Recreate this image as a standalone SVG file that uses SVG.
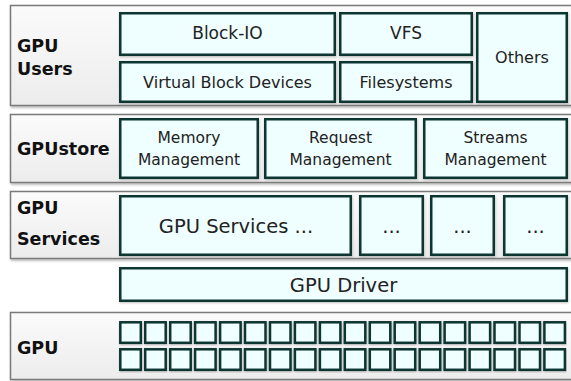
<svg xmlns="http://www.w3.org/2000/svg" width="571" height="381" viewBox="0 0 571 381">
<defs>
<linearGradient id="pg" x1="0" y1="0" x2="0" y2="1">
<stop offset="0" stop-color="#fbfbfb"/>
<stop offset="1" stop-color="#ececec"/>
</linearGradient>
<filter id="sh" x="-5%" y="-5%" width="110%" height="115%">
<feDropShadow dx="1" dy="1.5" stdDeviation="1" flood-color="#000" flood-opacity="0.3"/>
</filter>
<filter id="bs" x="-10%" y="-10%" width="120%" height="125%">
<feDropShadow dx="0.5" dy="1" stdDeviation="0.8" flood-color="#000" flood-opacity="0.25"/>
</filter>
</defs>
<style>
.panel{fill:url(#pg);stroke:#7a7a7a;stroke-width:1.5;filter:url(#sh)}
.box{fill:#effefe;stroke:#0c3431;stroke-width:2.5;filter:url(#bs)}
.lbl{font-family:"DejaVu Sans",Verdana,sans-serif;font-weight:bold;font-size:17.5px;fill:#111}
.t{font-family:"DejaVu Sans",Verdana,sans-serif;font-size:16px;fill:#222;text-anchor:middle}
.m{font-size:15.5px}
.b{font-size:19.5px}
</style>

<g id="layer-users">
<rect class="panel" x="10.5" y="5.5" width="562" height="100"/>
<text class="lbl" x="17" y="52">GPU</text>
<text class="lbl" x="17" y="75">Users</text>
</g>
<g id="block-io"><rect class="box" x="120.25" y="13.25" width="214.5" height="41.5"/><text class="t" x="227.5" y="39" style="font-size:17px">Block-IO</text></g>
<g id="virtual-block-devices"><rect class="box" x="120.25" y="62.25" width="214.5" height="39.5"/><text class="t" x="227.5" y="88">Virtual Block Devices</text></g>
<g id="vfs"><rect class="box" x="340.25" y="13.25" width="131.5" height="41.5"/><text class="t" x="406" y="39" style="font-size:17px">VFS</text></g>
<g id="filesystems"><rect class="box" x="340.25" y="62.25" width="131.5" height="39.5"/><text class="t" x="406" y="88">Filesystems</text></g>
<g id="others"><rect class="box" x="477.25" y="13.25" width="89.5" height="88.5"/><text class="t" x="522" y="63">Others</text></g>

<g id="layer-gpustore">
<rect class="panel" x="10.5" y="114.5" width="562" height="68"/>
<text class="lbl" x="17" y="155">GPUstore</text>
</g>
<g id="memory-management"><rect class="box" x="120.25" y="119.25" width="137.5" height="58.5"/><text class="t m" x="189" y="143">Memory</text><text class="t m" x="189" y="165">Management</text></g>
<g id="request-management"><rect class="box" x="265.25" y="119.25" width="150.5" height="58.5"/><text class="t m" x="340.5" y="143">Request</text><text class="t m" x="340.5" y="165">Management</text></g>
<g id="streams-management"><rect class="box" x="424.25" y="119.25" width="142.5" height="58.5"/><text class="t m" x="495.5" y="143">Streams</text><text class="t m" x="495.5" y="165">Management</text></g>

<g id="layer-services">
<rect class="panel" x="10.5" y="191.5" width="562" height="67"/>
<text class="lbl" x="17" y="214">GPU</text>
<text class="lbl" x="17" y="245">Services</text>
</g>
<g id="gpu-services"><rect class="box" x="120.25" y="196.25" width="230.5" height="58.5"/><text class="t b" x="236" y="233">GPU Services ...</text></g>
<g id="service-2"><rect class="box" x="360.25" y="196.25" width="62.5" height="58.5"/><text class="t b" x="391.5" y="233">...</text></g>
<g id="service-3"><rect class="box" x="431.25" y="196.25" width="62.5" height="58.5"/><text class="t b" x="462.5" y="233">...</text></g>
<g id="service-4"><rect class="box" x="504.25" y="196.25" width="62.5" height="58.5"/><text class="t b" x="535.5" y="233">...</text></g>

<g id="gpu-driver"><rect class="box" x="120.25" y="268.25" width="446.5" height="32.5"/><text class="t b" x="343.5" y="292">GPU Driver</text></g>

<g id="layer-gpu">
<rect class="panel" x="10.5" y="312.5" width="562" height="67"/>
<text class="lbl" x="17" y="354">GPU</text>
</g>
<g id="gpu-cores">
<rect class="box" x="120.3" y="322.3" width="20.5" height="20.5"/>
<rect class="box" x="145.2" y="322.3" width="20.5" height="20.5"/>
<rect class="box" x="170.2" y="322.3" width="20.5" height="20.5"/>
<rect class="box" x="195.1" y="322.3" width="20.5" height="20.5"/>
<rect class="box" x="220.1" y="322.3" width="20.5" height="20.5"/>
<rect class="box" x="245.0" y="322.3" width="20.5" height="20.5"/>
<rect class="box" x="270.0" y="322.3" width="20.5" height="20.5"/>
<rect class="box" x="294.9" y="322.3" width="20.5" height="20.5"/>
<rect class="box" x="319.9" y="322.3" width="20.5" height="20.5"/>
<rect class="box" x="344.8" y="322.3" width="20.5" height="20.5"/>
<rect class="box" x="369.8" y="322.3" width="20.5" height="20.5"/>
<rect class="box" x="394.7" y="322.3" width="20.5" height="20.5"/>
<rect class="box" x="419.7" y="322.3" width="20.5" height="20.5"/>
<rect class="box" x="444.6" y="322.3" width="20.5" height="20.5"/>
<rect class="box" x="469.6" y="322.3" width="20.5" height="20.5"/>
<rect class="box" x="494.5" y="322.3" width="20.5" height="20.5"/>
<rect class="box" x="519.5" y="322.3" width="20.5" height="20.5"/>
<rect class="box" x="544.4" y="322.3" width="20.5" height="20.5"/>
<rect class="box" x="120.3" y="349.3" width="20.5" height="20.5"/>
<rect class="box" x="145.2" y="349.3" width="20.5" height="20.5"/>
<rect class="box" x="170.2" y="349.3" width="20.5" height="20.5"/>
<rect class="box" x="195.1" y="349.3" width="20.5" height="20.5"/>
<rect class="box" x="220.1" y="349.3" width="20.5" height="20.5"/>
<rect class="box" x="245.0" y="349.3" width="20.5" height="20.5"/>
<rect class="box" x="270.0" y="349.3" width="20.5" height="20.5"/>
<rect class="box" x="294.9" y="349.3" width="20.5" height="20.5"/>
<rect class="box" x="319.9" y="349.3" width="20.5" height="20.5"/>
<rect class="box" x="344.8" y="349.3" width="20.5" height="20.5"/>
<rect class="box" x="369.8" y="349.3" width="20.5" height="20.5"/>
<rect class="box" x="394.7" y="349.3" width="20.5" height="20.5"/>
<rect class="box" x="419.7" y="349.3" width="20.5" height="20.5"/>
<rect class="box" x="444.6" y="349.3" width="20.5" height="20.5"/>
<rect class="box" x="469.6" y="349.3" width="20.5" height="20.5"/>
<rect class="box" x="494.5" y="349.3" width="20.5" height="20.5"/>
<rect class="box" x="519.5" y="349.3" width="20.5" height="20.5"/>
<rect class="box" x="544.4" y="349.3" width="20.5" height="20.5"/>
</g>
</svg>
